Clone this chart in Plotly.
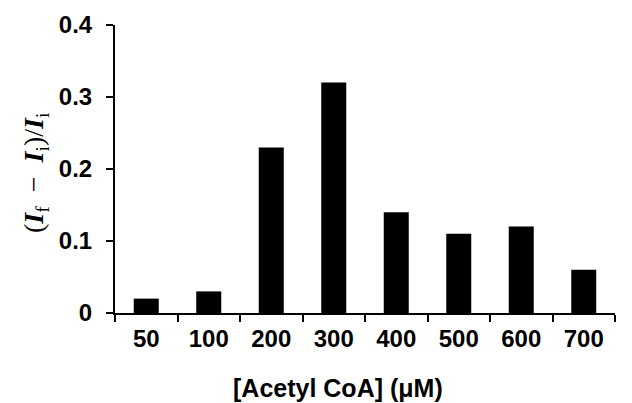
import plotly.graph_objects as go

categories = ["50", "100", "200", "300", "400", "500", "600", "700"]
values = [0.02, 0.03, 0.23, 0.32, 0.14, 0.11, 0.12, 0.06]
y_ticks = [0, 0.1, 0.2, 0.3, 0.4]
y_tick_labels = ["0", "0.1", "0.2", "0.3", "0.4"]
x_title = "[Acetyl CoA] (μM)"
y_title = ("(<b><i>I</i></b><sub>f</sub>\u2002−\u2002<b><i>I</i></b><sub>i</sub>)"
           "/<b><i>I</i></b><sub>i</sub>")

fig = go.Figure(go.Bar(x=categories, y=values,
                       marker=dict(color="black", line=dict(width=0))))

# page body adds an 8px offset; figure sized to fit the window
fig.update_layout(
    width=624, height=395,
    margin=dict(l=107, r=17, t=17, b=90, autoexpand=False),
    paper_bgcolor="white", plot_bgcolor="white",
    bargap=0.6,
    showlegend=False,
    font=dict(family="Liberation Sans, Arial", size=24, color="black"),
)
tickfont = dict(family="Liberation Sans, Arial", size=24, color="black", weight="bold")
fig.update_xaxes(
    type="category", automargin=False,
    showline=True, linecolor="black", linewidth=2,
    ticks="outside", tickson="boundaries", ticklen=7, tickwidth=2, tickcolor="black",
    tickfont=tickfont, ticklabelstandoff=3,
    showgrid=False, zeroline=False,
)
fig.update_yaxes(
    range=[0, 0.4], automargin=False,
    tickvals=y_ticks, ticktext=y_tick_labels,
    showline=True, linecolor="black", linewidth=2,
    ticks="outside", ticklen=7, tickwidth=2, tickcolor="black",
    tickfont=tickfont, ticklabelstandoff=9,
    showgrid=False, zeroline=False,
)
fig.add_annotation(
    text=f"<b>{x_title}</b>", xref="paper", yref="paper",
    x=(338 - 115) / 500, y=-75 / 288, xanchor="center", yanchor="middle",
    showarrow=False, font=dict(family="Liberation Sans, Arial", size=25, color="black"),
)
fig.add_annotation(
    text=y_title, xref="paper", yref="paper",
    x=(35 - 115) / 500, y=0.5 - 4 / 288, xanchor="center", yanchor="middle", textangle=-90,
    showarrow=False, font=dict(family="Liberation Serif, Times New Roman", size=28, color="black"),
)

fig.write_html("out.html")
